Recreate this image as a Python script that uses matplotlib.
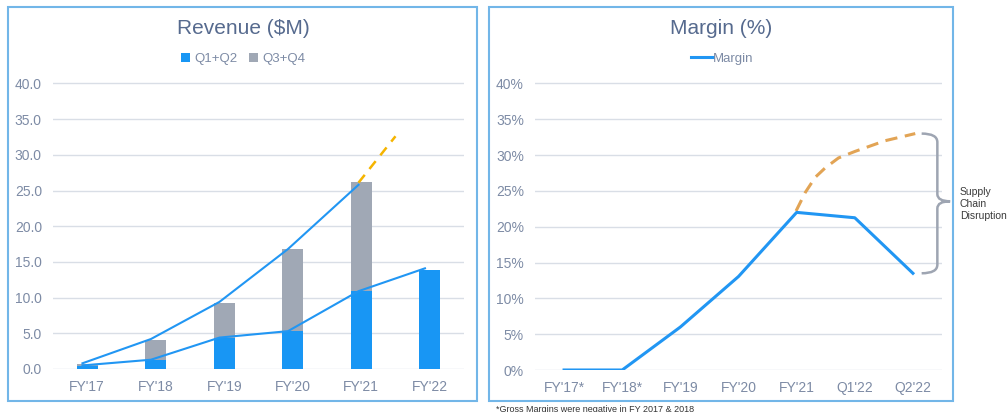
import matplotlib.pyplot as plt
from matplotlib.patches import Rectangle, PathPatch
from matplotlib.path import Path
from matplotlib.ticker import FuncFormatter

plt.rcParams['font.family'] = ['Liberation Sans', 'DejaVu Sans']

# Revenue data ($M)
rev_years = ["FY'17", "FY'18", "FY'19", "FY'20", "FY'21", "FY'22"]
rev_h1 = [0.45, 1.3, 4.4, 5.3, 10.9, 13.9]
rev_h2 = [0.3, 2.7, 4.8, 11.45, 15.3, 0.0]
rev_total_line = [0.8, 4.2, 9.4, 16.8, 25.8]
rev_h1_line = [0.5, 1.3, 4.4, 5.3, 10.9, 14.1]
rev_proj_x = [3.96, 4.5]
rev_proj_y = [26.1, 32.6]

# Margin data (%)
mar_periods = ["FY'17*", "FY'18*", "FY'19", "FY'20", "FY'21", "Q1'22", "Q2'22"]
margin = [0, 0, 6.0, 13.05, 22.0, 21.25, 13.5]
mar_proj_x = [3.99, 4.15, 4.32, 4.49, 4.72, 5.0, 5.52, 6.04]
mar_proj_y = [22.2, 24.8, 26.9, 28.2, 29.6, 30.5, 32.0, 33.0]

BLUE = '#1896F4'
GRAY = '#A0A8B5'
LINE = '#2196F3'
TICK = '#7D8BA5'
TITLE = '#566A8E'
GRID = '#D9DEE6'
FRAME = '#72B6E8'

fig = plt.figure(figsize=(10.07, 4.12), dpi=100)

# panel frames
fig.patches.append(Rectangle((8 / 1007, 1 - 401 / 412), 469 / 1007, 394 / 412,
                             transform=fig.transFigure, fill=False, edgecolor=FRAME, lw=1.5))
fig.patches.append(Rectangle((489 / 1007, 1 - 401 / 412), 464 / 1007, 394 / 412,
                             transform=fig.transFigure, fill=False, edgecolor=FRAME, lw=1.5))


def style(ax):
    for s in ax.spines.values():
        s.set_visible(False)
    ax.grid(axis='y', color=GRID, lw=1)
    ax.set_axisbelow(True)
    ax.tick_params(length=0, colors=TICK, labelsize=10)
    ax.tick_params(axis='x', labelsize=10, pad=8)
    ax.tick_params(axis='y', pad=8)


# --- Revenue ---
ax1 = fig.add_axes([53 / 1007, 1 - 369 / 412, 411 / 1007, 287 / 412])
x = list(range(len(rev_years)))
ax1.bar(x, rev_h1, width=0.31, color=BLUE, label='Q1+Q2', zorder=2)
ax1.bar(x, rev_h2, width=0.31, bottom=rev_h1, color=GRAY, label='Q3+Q4', zorder=2)
ax1.plot([-0.07, 0.93, 1.93, 2.93, 3.96], rev_total_line, color=LINE, lw=1.5, zorder=3)
ax1.plot([-0.07, 0.93, 1.93, 2.93, 3.96, 4.93], rev_h1_line, color=LINE, lw=1.5, zorder=3)
ax1.plot(rev_proj_x, rev_proj_y, color='#F5B400', lw=1.8, ls=(0, (4, 3)), zorder=3)
ax1.set_xlim(-0.5, 5.5)
ax1.set_ylim(0, 40.2)
ax1.set_yticks([0, 5, 10, 15, 20, 25, 30, 35, 40])
ax1.yaxis.set_major_formatter(FuncFormatter(lambda v, p: f'{v:.1f}'))
ax1.set_xticks(x, rev_years)
style(ax1)
fig.text(243 / 1007, 1 - 28 / 412, 'Revenue ($M)', ha='center', va='center',
         fontsize=15, color=TITLE)
ax1.legend(loc='center', bbox_to_anchor=(243 / 1007, 1 - 59 / 412), bbox_transform=fig.transFigure,
           ncol=2, frameon=False, fontsize=9.5, labelcolor=TICK, handlelength=0.7,
           handleheight=0.7, handletextpad=0.3, columnspacing=0.9)

# --- Margin ---
ax2 = fig.add_axes([535 / 1007, 1 - 370 / 412, 407 / 1007, 288 / 412])
x2 = list(range(len(mar_periods)))
ax2.plot(mar_proj_x, mar_proj_y, color='#E2A455', lw=2.2, ls=(0, (4, 2.5)), zorder=3)
ax2.plot(x2, margin, color=LINE, lw=2.2, label='Margin', zorder=4)
ax2.set_xlim(-0.5, 6.5)
ax2.set_ylim(0, 40.2)
ax2.set_yticks([0, 5, 10, 15, 20, 25, 30, 35, 40])
ax2.yaxis.set_major_formatter(FuncFormatter(lambda v, p: f'{v:.0f}%'))
ax2.set_xticks(x2, mar_periods)
style(ax2)
fig.text(721 / 1007, 1 - 28 / 412, 'Margin (%)', ha='center', va='center',
         fontsize=15, color=TITLE)
ax2.legend(loc='center', bbox_to_anchor=(722 / 1007, 1 - 59 / 412), bbox_transform=fig.transFigure,
           frameon=False, fontsize=9.5, labelcolor=TICK, handlelength=1.7, handletextpad=0.0)

# curly brace between projected and actual Q2'22 margin
top, bot = mar_proj_y[-1], margin[-1]
mid = (top + bot) / 2 + 0.3
xa, xb, xc = 6.15, 6.42, 6.64
verts = [(xa, top), (xb, top), (xb, top - 1.2),
         (xb, mid + 1.0), (xb, mid), (xc, mid),
         (xb, mid), (xb, mid - 1.0),
         (xb, bot + 1.2), (xb, bot), (xa, bot)]
codes = [Path.MOVETO, Path.CURVE3, Path.CURVE3,
         Path.LINETO, Path.CURVE3, Path.CURVE3,
         Path.CURVE3, Path.CURVE3,
         Path.LINETO, Path.CURVE3, Path.CURVE3]
ax2.add_patch(PathPatch(Path(verts, codes), fill=False, edgecolor='#9EA5B2', lw=1.8,
                        clip_on=False, zorder=3))
fig.text(960 / 1007, 1 - 204 / 412, 'Supply\nChain\nDisruption', ha='left', va='center',
         fontsize=7.5, color='#3A3A3A', linespacing=1.3)

fig.text(496 / 1007, 1 - 409 / 412, '*Gross Margins were negative in FY 2017 & 2018',
         ha='left', va='center', fontsize=6.5, color='#333333')

fig.savefig('out.png', dpi=100)
